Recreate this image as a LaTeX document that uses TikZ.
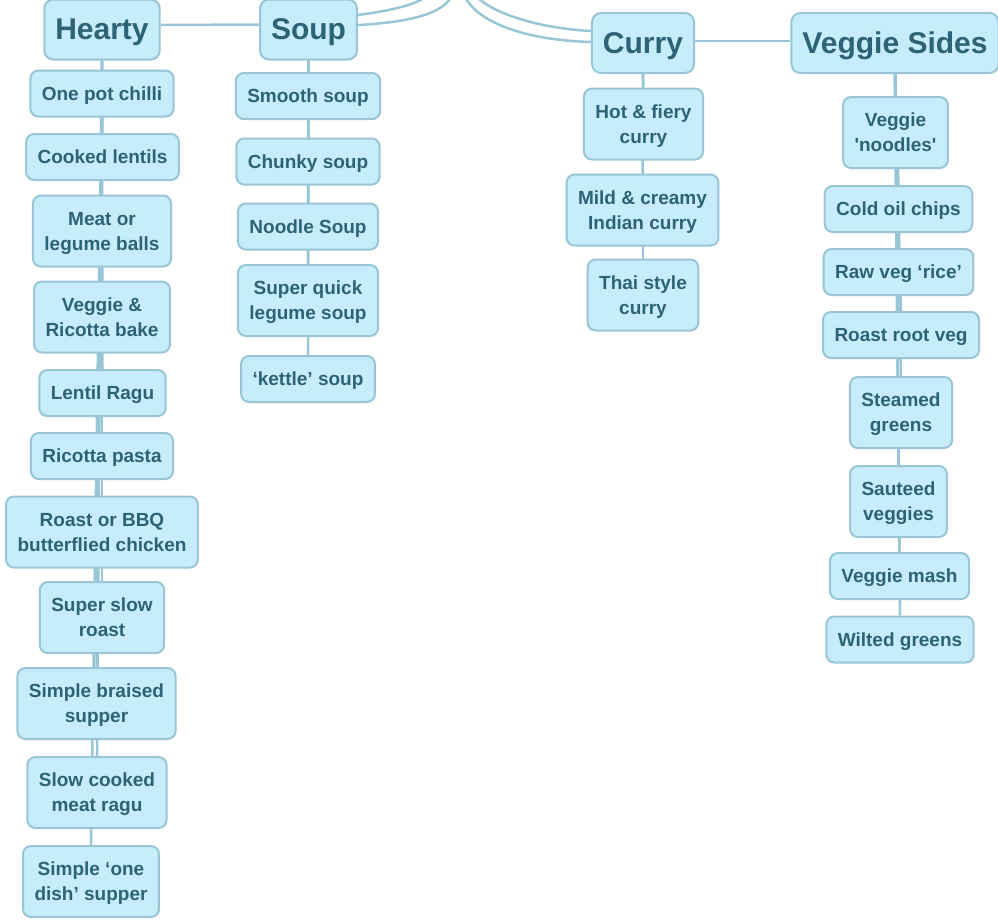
\documentclass[tikz,border=0pt]{standalone}
\usepackage{fontspec}
\setmainfont{Liberation Sans}
\usetikzlibrary{backgrounds}

\definecolor{boxfill}{HTML}{C7ECFB}
\definecolor{boxline}{HTML}{98C6D6}
\definecolor{boxtext}{HTML}{2D6376}

\tikzset{
  topic/.style={draw=boxline, fill=boxfill, line width=2pt, rounded corners=9pt,
    text=boxtext, font=\fontsize{30}{36}\selectfont\bfseries,
    inner xsep=11pt, text depth=0pt, minimum height=60pt},
  item/.style={draw=boxline, fill=boxfill, line width=2pt, rounded corners=8pt,
    text=boxtext, font=\fontsize{19}{25}\selectfont\bfseries,
    inner xsep=11.5pt, inner ysep=3pt, text depth=0pt, minimum height=46pt, align=center},
  tall/.style={minimum height=71pt},
  link/.style={draw=boxline, line width=2.5pt}
}

\begin{document}
\begin{tikzpicture}[x=1pt,y=-1pt]
    \useasboundingbox (0,0) rectangle (998,922);
    \clip (0,0) rectangle (998,922);

    % headings
    \node[topic] (hearty) at (102,29.5) {Hearty};
    \node[topic] (soup) at (308.5,29.5) {Soup};
    \node[topic] (curry) at (643,43) {Curry};
    \node[topic] (sides) at (895,43) {Veggie Sides};

    % hearty
    \node[item] (chilli) at (102,93.5) {One pot chilli};
    \node[item] (lentils) at (102.5,157) {Cooked lentils};
    \node[item,tall] (balls) at (102,231) {Meat or\\legume balls};
    \node[item,tall] (bake) at (102,317) {Veggie \&\\Ricotta bake};
    \node[item] (ragu) at (102.5,393) {Lentil Ragu};
    \node[item] (pasta) at (102,456) {Ricotta pasta};
    \node[item,tall] (chicken) at (102,532) {Roast or BBQ\\butterflied chicken};
    \node[item,tall] (slowroast) at (102,617.5) {Super slow\\roast};
    \node[item,tall] (braised) at (96.5,703.5) {Simple braised\\supper};
    \node[item,tall] (meatragu) at (97,792.5) {Slow cooked\\meat ragu};
    \node[item,tall] (onedish) at (91,881.5) {Simple ‘one\\dish’ supper};

    % soup
    \node[item] (smooth) at (308,96) {Smooth soup};
    \node[item] (chunky) at (308,161.5) {Chunky soup};
    \node[item] (noodle) at (308,226.5) {Noodle Soup};
    \node[item,tall] (quick) at (308,300.5) {Super quick\\legume soup};
    \node[item] (kettle) at (308,379) {‘kettle’ soup};

    % curry
    \node[item,tall] (hot) at (643.5,124) {Hot \& fiery\\curry};
    \node[item,tall] (mild) at (642.5,210) {Mild \& creamy\\Indian curry};
    \node[item,tall] (thai) at (643,295) {Thai style\\curry};

    % veggie sides
    \node[item,tall] (noodles) at (895.5,132.5) {Veggie\\\textquotesingle noodles\textquotesingle};
    \node[item] (chips) at (898.5,209) {Cold oil chips};
    \node[item] (rice) at (898.5,272) {Raw veg ‘rice’};
    \node[item] (rootveg) at (901,335) {Roast root veg};
    \node[item,tall] (steamed) at (901,412.5) {Steamed\\greens};
    \node[item,tall] (sauteed) at (898.5,501.5) {Sauteed\\veggies};
    \node[item] (mash) at (899.5,576) {Veggie mash};
    \node[item] (wilted) at (900,639.5) {Wilted greens};

    % links to the main idea (off the page)
    \coordinate (rs1) at (428,-5);
    \coordinate (rs2) at (452,-5);
    \coordinate (rc1) at (475,-5);
    \coordinate (rc2) at (464,-5);

    \begin{scope}[on background layer]
        \draw[link] ([yshift=14.5pt]soup.east) .. controls (395,10) and (418,4) .. (rs1);
        \draw[link] ([yshift=4.5pt]soup.east) .. controls (415,22) and (445,12) .. (rs2);
        \draw[link] ([yshift=12pt]curry.west) .. controls (535,28) and (490,12) .. (rc1);
        \draw[link] ([yshift=1pt]curry.west) .. controls (520,40) and (475,20) .. (rc2);

        \draw[link] ([yshift=4.5pt]hearty.east) -- ([yshift=5pt]soup.west);
        \draw[link] ([yshift=2pt]curry.east) -- ([yshift=2pt]sides.west);

        \foreach \n in {chilli,lentils,balls,bake,ragu,pasta,chicken,slowroast,braised,meatragu,onedish}
            \draw[link] (hearty.south) -- (\n.north);
        \foreach \n in {smooth,chunky,noodle,quick,kettle}
            \draw[link] (soup.south) -- (\n.north);
        \foreach \n in {hot,mild,thai}
            \draw[link] (curry.south) -- (\n.north);
        \foreach \n in {noodles,chips,rice,rootveg,steamed,sauteed,mash,wilted}
            \draw[link] (sides.south) -- (\n.north);
    \end{scope}
\end{tikzpicture}
\end{document}
